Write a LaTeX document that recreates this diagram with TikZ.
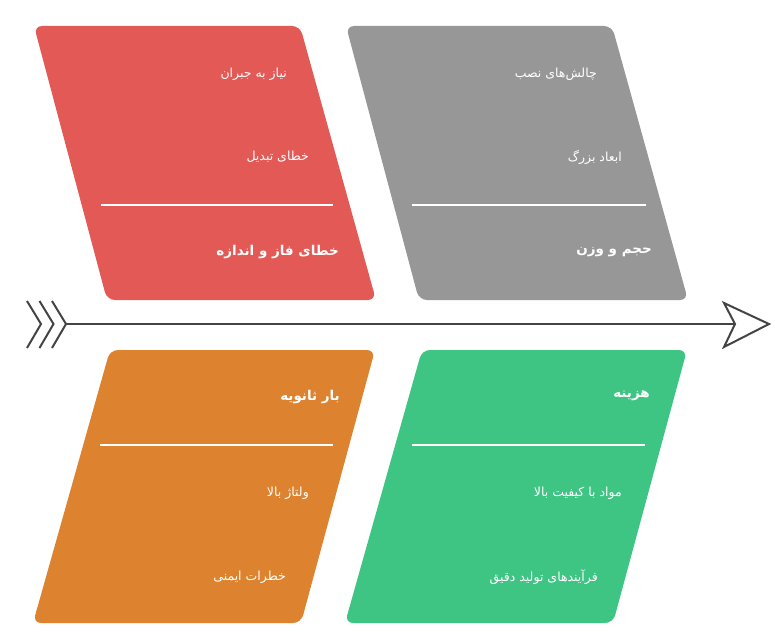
\documentclass[tikz,border=0pt]{standalone}
\usepackage{fontspec}
\newfontfamily\arabicfont[Script=Arabic]{DejaVu Sans}
\TeXXeTstate=1
\definecolor{cred}{RGB}{227,89,85}
\definecolor{cgray}{RGB}{151,151,151}
\definecolor{corange}{RGB}{221,131,48}
\definecolor{cgreen}{RGB}{62,197,132}
\definecolor{cline}{RGB}{68,68,68}
\tikzset{
  card/.style={rounded corners=8pt, draw=none},
  sep/.style={draw=white, line width=1.5pt},
  sub/.style={anchor=east, inner sep=0pt, text=white, font=\arabicfont\fontsize{12.5}{14}\selectfont},
  ttl/.style={anchor=east, inner sep=0pt, text=white, font=\arabicfont\bfseries\fontsize{13.5}{16}\selectfont},
  spine/.style={draw=cline, line width=2pt},
}
\begin{document}
\begin{tikzpicture}[x=1pt,y=-1pt]
\useasboundingbox (0,0) rectangle (775,634);
% cards
\fill[cred,card] (34,26) -- (300,26) -- (376,300) -- (107,300) -- cycle;
\fill[cgray,card] (346,26) -- (612,26) -- (688,300) -- (419,300) -- cycle;
\fill[corange,card] (110,350) -- (375,350) -- (301,623) -- (33,623) -- cycle;
\fill[cgreen,card] (422,350) -- (687,350) -- (613,623) -- (345,623) -- cycle;
% separators
\coordinate (rl1) at (101,205); \coordinate (rl2) at (333,205);
\coordinate (gl1) at (412,205); \coordinate (gl2) at (646,205);
\coordinate (ol1) at (100,445); \coordinate (ol2) at (333,445);
\coordinate (nl1) at (412,445); \coordinate (nl2) at (645,445);
\draw[sep] (rl1) -- (rl2);
\draw[sep] (gl1) -- (gl2);
\draw[sep] (ol1) -- (ol2);
\draw[sep] (nl1) -- (nl2);
% texts red
\node[sub] (r1) at (287,74) {\beginR نیاز به جبران\endR};
\node[sub] (r2) at (309,157) {\beginR خطای تبدیل\endR};
\node[ttl] (rt) at (339,252) {\beginR خطای فاز و اندازه\endR};
% texts gray
\node[sub] (g1) at (597,74) {\beginR چالش‌های نصب\endR};
\node[sub] (g2) at (622,157) {\beginR ابعاد بزرگ\endR};
\node[ttl] (gt) at (652,252) {\beginR حجم و وزن\endR};
% texts orange
\node[ttl] (ot) at (340,397) {\beginR بار ثانویه\endR};
\node[sub] (o1) at (309,493) {\beginR ولتاژ بالا\endR};
\node[sub] (o2) at (286,577) {\beginR خطرات ایمنی\endR};
% texts green
\node[ttl] (nt) at (650,396) {\beginR هزینه\endR};
\node[sub] (n1) at (622,493) {\beginR مواد با کیفیت بالا\endR};
\node[sub] (n2) at (598,577) {\beginR فرآیندهای تولید دقیق\endR};
% spine
\coordinate (tail) at (66,324);
\coordinate (notch) at (735,324);
\coordinate (tip) at (769,324);
\coordinate (hu) at (724,303);
\coordinate (hd) at (724,347);
\draw[spine] (tail) -- (notch);
\draw[spine, line join=miter] (notch) -- (hu) -- (tip) -- (hd) -- cycle;
\coordinate (c1) at (41,324); \coordinate (c2) at (53.5,324);
\draw[spine] (27,301) -- (c1) -- (27,348);
\draw[spine] (39.5,301) -- (c2) -- (39.5,348);
\draw[spine] (52,301) -- (tail) -- (52,348);
\end{tikzpicture}
\end{document}
